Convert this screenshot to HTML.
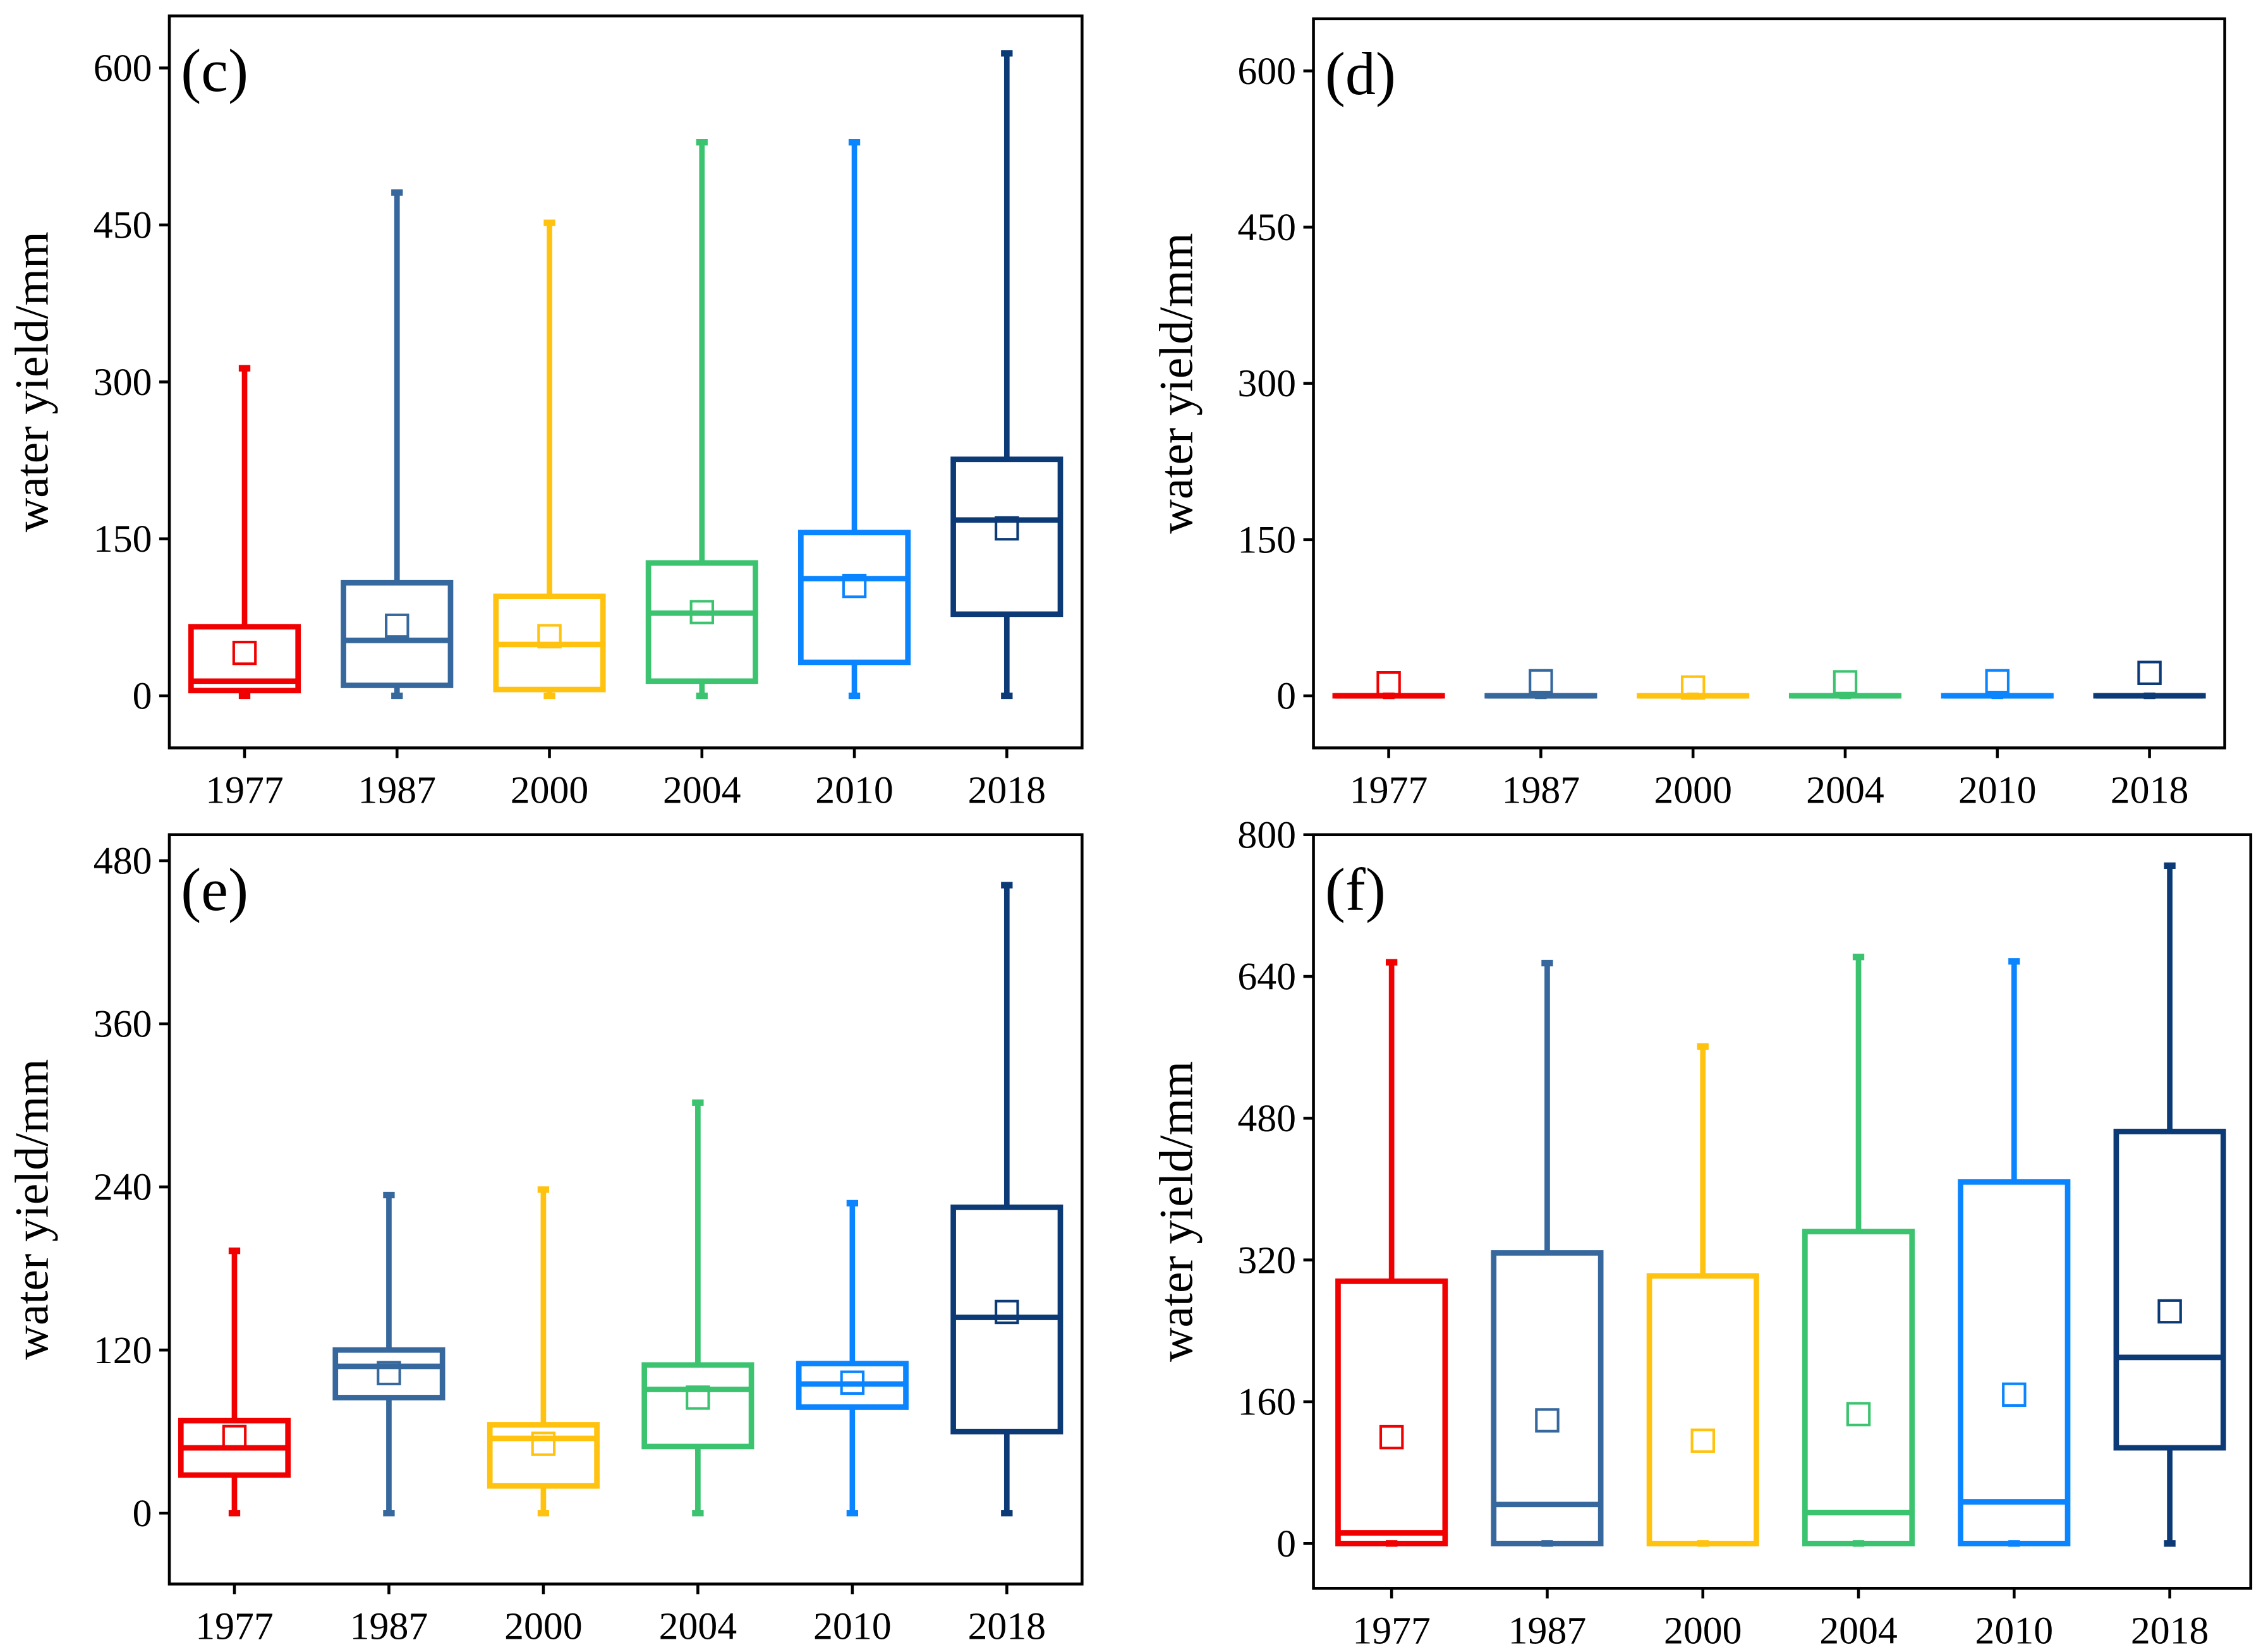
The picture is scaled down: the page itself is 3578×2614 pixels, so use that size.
<!DOCTYPE html>
<html><head><meta charset="utf-8"><style>
html,body{margin:0;padding:0;background:#fff}
svg{display:block}
text{font-family:"Liberation Serif",serif;fill:#000}
</style></head><body>
<svg id="chart" width="3578" height="2614" viewBox="0 0 1563 1142" xmlns="http://www.w3.org/2000/svg"></svg>
<script>
const categories=["1977","1987","2000","2004","2010","2018"];
const colors=["#f00000","#36679d","#ffc20e","#3cc36f","#0a84ff","#0c3a76"];
// [min,q1,median,q3,max]
const cStats=[[0,5,14,66,313],[0,10,53,108,481],[0,6,49,95,452],[0,14,79,127,529],[0,32,112,156,529],[0,78,168,226,614]];
const cMeans=[41,67,57,80,105,160];
const dStats=[[0,0,0,0,0],[0,0,0,0,0],[0,0,0,0,0],[0,0,0,0,0],[0,0,0,0,0],[0,0,0,0,0]];
const dMeans=[12,14,8,13,14,22];
const eStats=[[0,28,48,68,193],[0,85,108,120,234],[0,20,55,65,238],[0,49,91,109,302],[0,78,95,110,228],[0,60,144,225,462]];
const eMeans=[56,103,51,85,96,148];
const fStats=[[0,0,12,296,656],[0,0,44,328,655],[0,0,0,302,561],[0,0,35,352,662],[0,0,47,408,657],[0,108,210,465,765]];
const fMeans=[120,139,116,146,168,262];
const cTicks=[0,150,300,450,600];
const eTicks=[0,120,240,360,480];
const fTicks=[0,160,320,480,640,800];

const svg=document.getElementById('chart');
const NS="http://www.w3.org/2000/svg";
function mk(tag,attrs,parent){const e=document.createElementNS(NS,tag);for(const k in attrs)e.setAttribute(k,attrs[k]);parent.appendChild(e);return e;}

function panel(cfg){
  const g=mk('g',{},svg);
  
  
  const y=v=>cfg.y0+(cfg.yTop-cfg.y0)*(v/cfg.vTop);
  const x=i=>cfg.x0+i*cfg.dx;
  const frame=mk('rect',{x:cfg.L,y:cfg.T,width:cfg.R-cfg.L,height:cfg.B-cfg.T,fill:'none',stroke:'#000','stroke-width':2},g);
  
  
  cfg.ticks.forEach(t=>{
    const tk=mk('line',{x1:cfg.L-7,x2:cfg.L,y1:y(t),y2:y(t),stroke:'#000','stroke-width':2},g);
    
    
    const tl=mk('text',{x:cfg.L-12,y:y(t)+9,'text-anchor':'end','font-size':27},g);
    
    
    tl.textContent=t;
  });
  categories.forEach((c,i)=>{
    const tk=mk('line',{x1:x(i),x2:x(i),y1:cfg.B,y2:cfg.B+7,stroke:'#000','stroke-width':2},g);
    
    
    const tl=mk('text',{x:x(i),y:cfg.B+38,'text-anchor':'middle','font-size':27},g);
    
    
    tl.textContent=c;
  });
  const yt=mk('text',{x:0,y:0,'text-anchor':'middle','font-size':33,transform:`translate(${cfg.L-84},${(cfg.T+cfg.B)/2}) rotate(-90)`},g);
  
  
  yt.textContent='water yield/mm';
  const pl=mk('text',{x:cfg.L+8,y:cfg.T+52,'font-size':42},g);
  
  
  pl.textContent='('+cfg.id+')';
  const hw=37;
  cfg.stats.forEach((s,i)=>{
    const col=colors[i],cx=x(i);
    const bg=mk('g',{stroke:col,fill:'none','stroke-width':3.8},g);
    
    
    mk('line',{x1:cx,x2:cx,y1:y(s[0]),y2:y(s[1])},bg);
    mk('line',{x1:cx,x2:cx,y1:y(s[3]),y2:y(s[4])},bg);
    mk('line',{x1:cx-4,x2:cx+4,y1:y(s[0]),y2:y(s[0]),'stroke-width':4.5},bg);
    mk('line',{x1:cx-4,x2:cx+4,y1:y(s[4]),y2:y(s[4]),'stroke-width':4.5},bg);
    mk('rect',{x:cx-hw,y:y(s[3]),width:2*hw,height:Math.max(0.01,y(s[1])-y(s[3]))},bg);
    mk('line',{x1:cx-hw,x2:cx+hw,y1:y(s[2]),y2:y(s[2])},bg);
    const m=mk('rect',{x:cx-7.5,y:y(cfg.means[i])-7.5,width:15,height:15,fill:'none',stroke:col,'stroke-width':1.8},g);
    
    
  });
}
panel({id:'c',L:117,R:748,T:11,B:517,x0:169,dx:105.4,y0:481,yTop:47,vTop:600,ticks:cTicks,stats:cStats,means:cMeans});
panel({id:'d',L:908,R:1538,T:13,B:517,x0:960,dx:105.2,y0:481,yTop:49,vTop:600,ticks:cTicks,stats:dStats,means:dMeans});
panel({id:'e',L:117,R:748,T:577,B:1095,x0:162,dx:106.8,y0:1046,yTop:595,vTop:480,ticks:eTicks,stats:eStats,means:eMeans});
panel({id:'f',L:908,R:1556,T:577,B:1098,x0:962,dx:107.6,y0:1067,yTop:577,vTop:800,ticks:fTicks,stats:fStats,means:fMeans});
</script>
</body></html>
